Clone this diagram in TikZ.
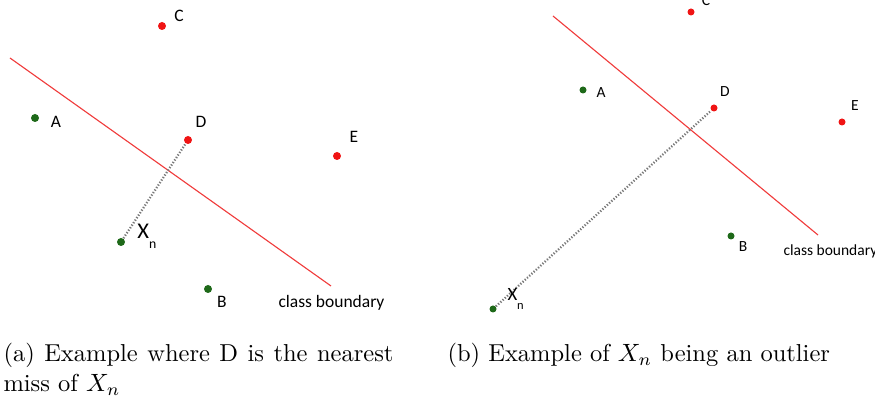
\documentclass[tikz,border=0pt]{standalone}
\usepackage{fontspec}
\setmainfont{Latin Modern Roman}
\newfontfamily\lblfont{Carlito}
\definecolor{ptred}{RGB}{240,20,20}
\definecolor{ptgreen}{RGB}{30,105,25}
\definecolor{bnd}{RGB}{240,60,60}
\definecolor{dotgray}{RGB}{120,120,120}
\tikzset{
  redpt/.style={circle,fill=ptred,inner sep=0pt,minimum size=#1},
  greenpt/.style={circle,fill=ptgreen,inner sep=0pt,minimum size=#1},
  lblL/.style={font=\lblfont\fontsize{7}{8}\selectfont,inner sep=0pt},
  lblR/.style={font=\lblfont\fontsize{6.2}{7}\selectfont,inner sep=0pt},
  boundary/.style={draw=bnd,line width=0.45pt},
  nearline/.style={draw=dotgray,line width=0.9pt,dash pattern=on 0.5pt off 0.7pt},
}
\begin{document}
\begin{tikzpicture}[x=0.4pt,y=-0.4pt]
\useasboundingbox (0,0) rectangle (875,405);
% ---------- left panel ----------
\coordinate (b1s) at (10,58);
\coordinate (b1e) at (331,286);
\draw[boundary] (b1s) -- (b1e);
\node[redpt=3.2pt] (LC) at (162,26) {};
\node[greenpt=3.2pt] (LA) at (35,118) {};
\node[redpt=3.2pt] (LD) at (188,140) {};
\node[redpt=3.2pt] (LE) at (337,156) {};
\node[greenpt=3.2pt] (LX) at (121,242) {};
\node[greenpt=3.2pt] (LB) at (208,289) {};
\draw[nearline] (LX) -- (LD);
\node[lblL] (LCl) at (179,16) {C};
\node[lblL] (LAl) at (56,122) {A};
\node[lblL] (LDl) at (201,122) {D};
\node[lblL] (LEl) at (354,137) {E};
\node[lblL] (LBl) at (222,302) {B};
\node[lblL,font=\lblfont\fontsize{9}{10}\selectfont,anchor=west] (LXl) at (137,236) {X\raisebox{-0.9ex}{\fontsize{5.5}{6}\selectfont n}};
\node[lblL,anchor=west] (LCB) at (278,303) {class boundary};
% ---------- right panel ----------
\coordinate (b2s) at (553,16);
\coordinate (b2e) at (818,235);
\draw[boundary] (b2s) -- (b2e);
\node[redpt=2.8pt] (RC) at (691,12) {};
\node[greenpt=2.8pt] (RA) at (583,90) {};
\node[redpt=2.8pt] (RD) at (714,108) {};
\node[redpt=2.8pt] (RE) at (842,122) {};
\node[greenpt=2.8pt] (RB) at (731,236) {};
\node[greenpt=2.8pt] (RX) at (493,309) {};
\draw[nearline] (RX) -- (RD);
\node[lblR] (RCl) at (706,1) {C};
\node[lblR] (RAl) at (601,93) {A};
\node[lblR] (RDl) at (725,92) {D};
\node[lblR] (REl) at (855,106) {E};
\node[lblR] (RBl) at (743,247) {B};
\node[lblR,font=\lblfont\fontsize{7.5}{8}\selectfont,anchor=west] (RXl) at (507,299) {X\raisebox{-0.9ex}{\fontsize{5}{6}\selectfont n}};
\node[lblR,anchor=west] (RCB) at (783,251) {class boundary};
% ---------- captions ----------
\node[anchor=north west,inner sep=0pt,text width=390*0.4pt,align=justify,
      font=\fontsize{9.8}{12}\selectfont] (capa) at (3,343)
  {(a) Example where D is the nearest miss of $X_n$};
\node[anchor=north west,inner sep=0pt,font=\fontsize{9.8}{12}\selectfont] (capb) at (447,343)
  {(b) Example of $X_n$ being an outlier};
\end{tikzpicture}
\end{document}
